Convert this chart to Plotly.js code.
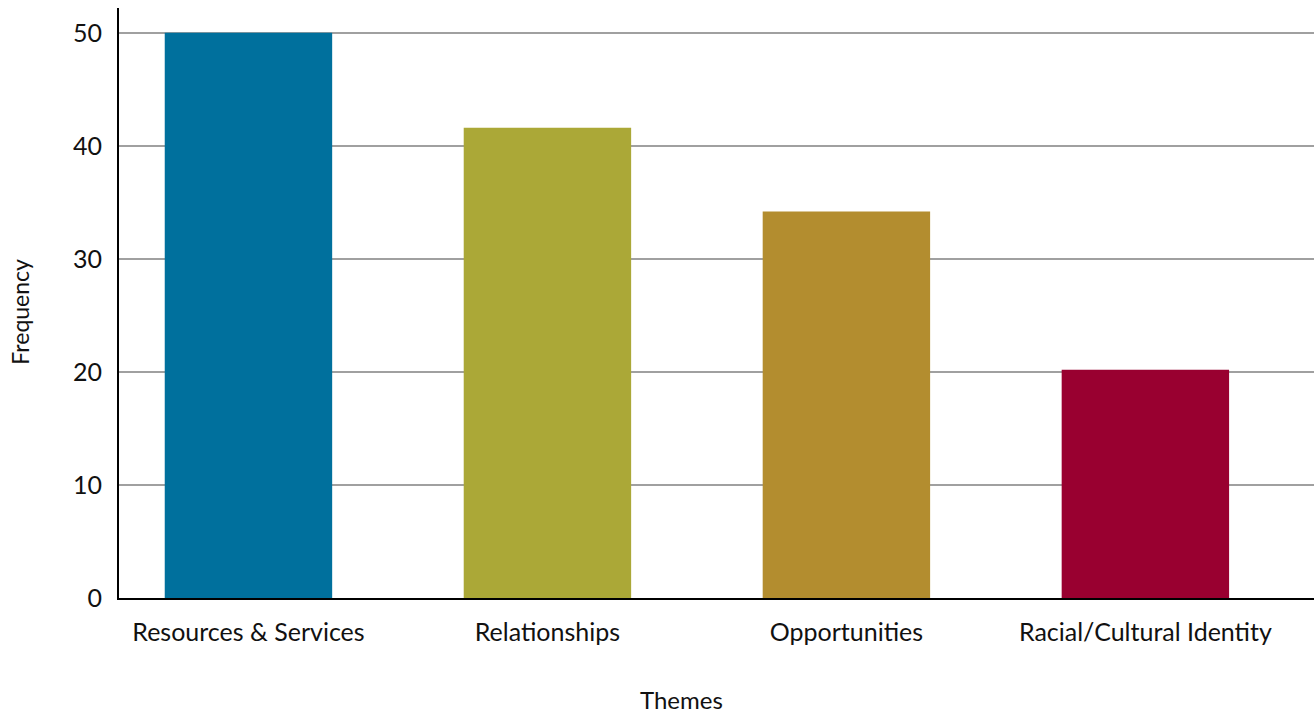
<!DOCTYPE html>
<html>
<head>
<meta charset="utf-8">
<script src="https://cdn.plot.ly/plotly-3.0.1.min.js"></script>
<style>
html,body{margin:0;padding:0;background:#fff;}
#chart{width:1314px;height:713px;}
</style>
</head>
<body>
<div id="chart"></div>
<script>
const themes = ["Resources & Services", "Relationships", "Opportunities", "Racial/Cultural Identity"];
const frequency = [50, 41.6, 34.2, 20.2];
const barColors = ["#00709D", "#ABA837", "#B38D2F", "#990030"];
const yTicks = [0, 10, 20, 30, 40, 50];

const FONT = "Lato, 'Open Sans', sans-serif";

const trace = {
  type: "bar",
  x: themes,
  y: frequency,
  marker: {color: barColors, line: {width: 0}},
  hoverinfo: "x+y"
};

const layout = {
  width: 1314,
  height: 713,
  margin: {l: 119, r: 0, t: 8, b: 115},
  paper_bgcolor: "#ffffff",
  plot_bgcolor: "#ffffff",
  bargap: 0.44,
  showlegend: false,
  font: {family: FONT, size: 25, color: "#111111"},
  xaxis: {
    type: "category",
    range: [-0.433, 3.564],
    showline: true,
    linecolor: "#000000",
    linewidth: 2,
    showgrid: false,
    ticks: "",
    ticklabelstandoff: 11,
    tickfont: {family: FONT, size: 25, color: "#111111"},
    fixedrange: true
  },
  yaxis: {
    range: [0, 52.2],
    tickvals: yTicks,
    ticktext: yTicks.map(String),
    showline: true,
    linecolor: "#000000",
    linewidth: 2,
    showgrid: true,
    gridcolor: "#A0A0A0",
    gridwidth: 2,
    zeroline: false,
    ticks: "",
    ticklabelstandoff: 10,
    tickfont: {family: FONT, size: 25, color: "#111111"},
    fixedrange: true
  },
  annotations: [
    {text: "Themes", xref: "paper", yref: "paper", x: 0.471, y: -0.172, xanchor: "center", yanchor: "middle", showarrow: false, font: {family: FONT, size: 24, color: "#111111"}},
    {text: "Frequency", xref: "paper", yref: "paper", x: -0.083, y: 0.485, xanchor: "center", yanchor: "middle", textangle: -90, showarrow: false, font: {family: FONT, size: 23, color: "#111111"}}
  ]
};

Plotly.newPlot("chart", [trace], layout, {displayModeBar: false, staticPlot: true});
</script>
</body>
</html>
